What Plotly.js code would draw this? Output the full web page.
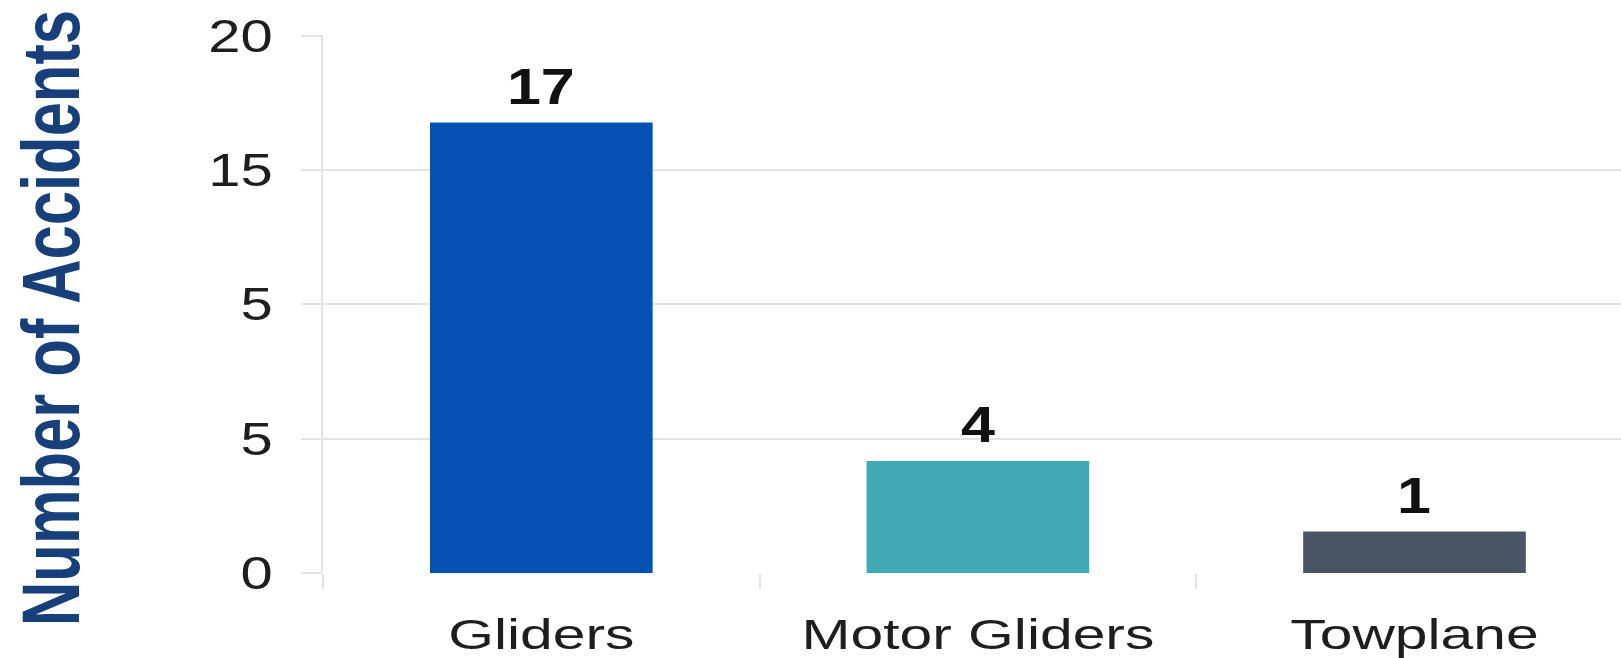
<!DOCTYPE html>
<html>
<head>
<meta charset="utf-8">
<script src="https://cdn.plot.ly/plotly-3.0.1.min.js"></script>
<style>html,body{margin:0;padding:0;background:#fff;}#chart{width:1621px;height:658px;}</style>
</head>
<body>
<div id="chart"></div>
<script>
const categories = ['Gliders', 'Motor Gliders', 'Towplane'];
const accidents = [16.76, 4.17, 1.54];
const valueLabels = ['17', '4', '1'];
const barColors = ['#0552b3', '#40a9b3', '#4a5663'];
const yTickVals = [0, 5, 10, 15, 20];
const yTickText = ['0', '5', '5', '15', '20'];

const FONT = 'Liberation Sans, Arial, Helvetica, sans-serif';
const GRID = '#e3e3e3';

const trace = {
  type: 'bar',
  x: categories,
  y: accidents,
  width: 0.51,
  marker: {color: barColors},
  hoverinfo: 'skip'
};

const annotations = categories.map((c, i) => ({
  x: c, y: accidents[i], xref: 'x', yref: 'y',
  text: '<b>' + valueLabels[i] + '</b>',
  showarrow: false, yanchor: 'bottom', yshift: 6,
  font: {family: FONT, size: 50, color: '#111'}
}));

const layout = {
  width: 1621, height: 658,
  margin: {l: 323, r: 0, t: 35, b: 85},
  paper_bgcolor: '#fff', plot_bgcolor: '#fff',
  showlegend: false,
  font: {family: FONT, color: '#1e1e1e'},
  xaxis: {
    range: [-0.5, 2.473],
    showgrid: false, zeroline: false, showline: false,
    ticks: 'outside', tickson: 'boundaries', ticklen: 15, tickcolor: GRID, tickwidth: 2,
    ticklabelstandoff: 33,
    tickfont: {family: FONT, size: 42, color: '#1e1e1e'}
  },
  yaxis: {
    range: [0, 20.02],
    tickvals: yTickVals, ticktext: yTickText,
    showgrid: true, gridcolor: GRID, gridwidth: 2,
    zeroline: false, showline: true, linecolor: GRID, linewidth: 2,
    ticks: 'outside', ticklen: 20, tickcolor: GRID, tickwidth: 2,
    ticklabelstandoff: 19,
    tickfont: {family: FONT, size: 46, color: '#1e1e1e'},
    title: {
      text: '<b>Number of Accidents</b>',
      standoff: 60,
      font: {family: FONT, size: 61.5, color: '#173f7a'}
    }
  },
  annotations: annotations
};

function stretchText(el, s) {
  const bb = el.getBBox();
  const anchor = el.getAttribute('text-anchor') || 'start';
  const px = anchor === 'end' ? bb.x + bb.width : anchor === 'middle' ? bb.x + bb.width / 2 : bb.x;
  const old = el.getAttribute('transform') || '';
  el.setAttribute('transform', old + ' translate(' + px + ',0) scale(' + s + ',1) translate(' + (-px) + ',0)');
}

Plotly.newPlot('chart', [trace], layout, {displayModeBar: false, staticPlot: true}).then(gd => {
  gd.querySelectorAll('.xtick text').forEach(el => stretchText(el, 1.40));
  gd.querySelectorAll('.ytick text').forEach(el => stretchText(el, 1.26));
  gd.querySelectorAll('.annotation-text').forEach(el => stretchText(el, 1.22));
  const t = gd.querySelector('.ytitle');
  if (t) {
    const r = t.getBoundingClientRect();
    const cx = r.left + r.width / 2, cy = r.top + r.height / 2;
    const old = t.getAttribute('transform') || '';
    t.setAttribute('transform', 'translate(51,318) scale(1.32,1) translate(' + (-cx) + ',' + (-cy) + ') ' + old);
  }
});
</script>
</body>
</html>
